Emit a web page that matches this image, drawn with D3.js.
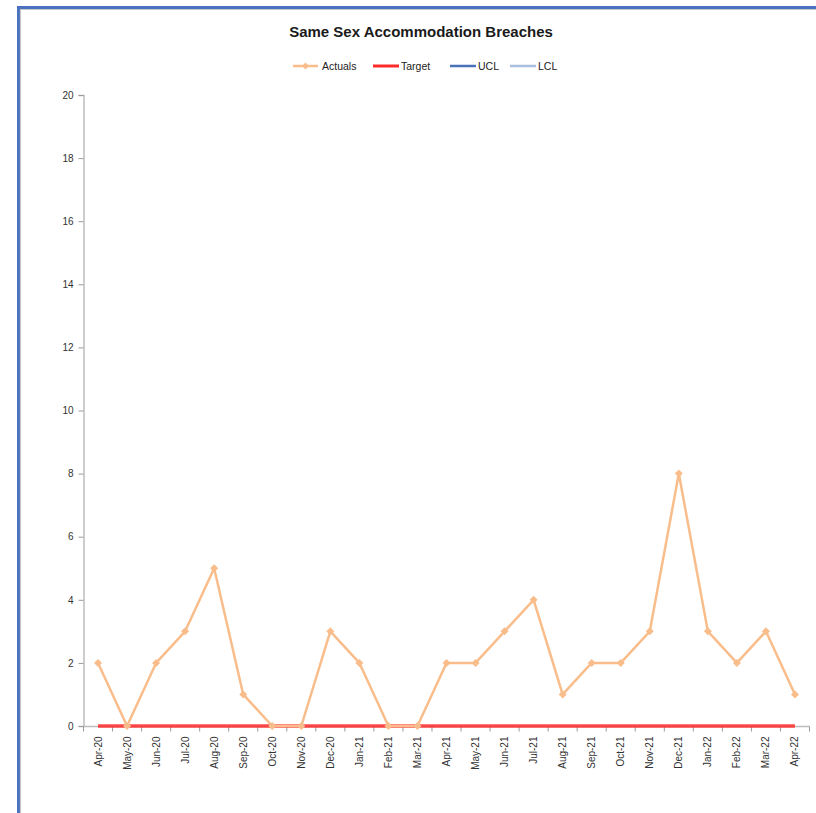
<!DOCTYPE html>
<html>
<head>
<meta charset="utf-8">
<script src="https://cdn.jsdelivr.net/npm/d3@7/dist/d3.min.js"></script>
<style>
  html, body { margin: 0; padding: 0; background: #ffffff; }
  svg { display: block; }
</style>
</head>
<body>
<svg id="chart" width="816" height="813"></svg>
<script>
// Monthly categories
const months = ["Apr-20","May-20","Jun-20","Jul-20","Aug-20","Sep-20","Oct-20","Nov-20","Dec-20",
  "Jan-21","Feb-21","Mar-21","Apr-21","May-21","Jun-21","Jul-21","Aug-21","Sep-21","Oct-21",
  "Nov-21","Dec-21","Jan-22","Feb-22","Mar-22","Apr-22"];
// Breaches recorded each month
const actuals = [2,0,2,3,5,1,0,0,3,2,0,0,2,2,3,4,1,2,2,3,8,3,2,3,1];
// Target is zero breaches every month
const target = [0,0,0,0,0,0,0,0,0,0,0,0,0,0,0,0,0,0,0,0,0,0,0,0,0];
// Control limits (no values plotted)
const ucl = [];
const lcl = [];
const yTicks = [0,2,4,6,8,10,12,14,16,18,20];
const seriesNames = ["Actuals","Target","UCL","LCL"];
const seriesColors = ["#f9bd8b","#ff2a2a","#4a72b8","#a9bfdf"];

const svg = d3.select("#chart");
const font = "'Liberation Sans', Arial, sans-serif";

// frame
svg.append("line").attr("x1",18.5).attr("y1",7).attr("x2",18.5).attr("y2",813)
  .attr("stroke","#4a72c0").attr("stroke-width",3);
svg.append("line").attr("x1",17).attr("y1",7.5).attr("x2",816).attr("y2",7.5)
  .attr("stroke","#4a72c0").attr("stroke-width",3);
svg.append("line").attr("x1",20.5).attr("y1",9.5).attr("x2",20.5).attr("y2",813)
  .attr("stroke","#c8c8c8").attr("stroke-width",1.2);
svg.append("line").attr("x1",20).attr("y1",9.5).attr("x2",816).attr("y2",9.5)
  .attr("stroke","#c8c8c8").attr("stroke-width",1.2);

const x = d3.scaleBand().domain(months).range([83.5, 809.5]);
const y = d3.scaleLinear().domain([0, 20]).range([726, 95]);
const cx = m => x(m) + x.bandwidth() / 2;

// diamond marker: a square turned 45 degrees
const diamond = s => `M0,${-s}L${s},0L0,${s}L${-s},0Z`;

// title
svg.append("text").attr("x", 421).attr("y", 37).attr("text-anchor","middle")
  .attr("font-family", font)
  .attr("font-weight","bold").attr("font-size", 15).attr("fill","#1a1a1a")
  .text("Same Sex Accommodation Breaches");

// legend
const legendX = [293, 373, 450, 510];
const legend = svg.append("g").attr("font-family", font)
  .attr("font-size", 10.5).attr("fill","#222");
seriesNames.forEach((n, i) => {
  const g = legend.append("g").attr("transform", `translate(${legendX[i]},66)`);
  g.append("line").attr("x1",0).attr("x2",i === 0 ? 25 : 26).attr("y1",0).attr("y2",0)
    .attr("stroke", seriesColors[i]).attr("stroke-width", i === 1 ? 3 : 2.5);
  if (i === 0) {
    g.append("path").attr("d", diamond(3.5))
      .attr("transform","translate(12.5,0)").attr("fill", seriesColors[0]);
  }
  g.append("text").attr("x", i === 0 ? 29 : 28).attr("y", 4).text(n);
});

// y axis
const yAxis = svg.append("g").attr("transform","translate(83.5,0)")
  .call(d3.axisLeft(y).tickValues(yTicks).tickSize(5).tickPadding(5));
yAxis.select(".domain").attr("stroke","#bdbdbd").attr("stroke-width",1.5);
yAxis.selectAll(".tick line").attr("stroke","#9a9a9a");
yAxis.selectAll(".tick text").attr("font-family", font).attr("font-size", 10).attr("fill","#333");

// x axis with ticks at category boundaries
const xAxis = svg.append("g").attr("transform","translate(0,726.5)");
xAxis.append("line").attr("x1",83.5).attr("x2",809.5).attr("y1",0).attr("y2",0)
  .attr("stroke","#bdbdbd").attr("stroke-width",1.5);
const bounds = months.map(m => x(m) + x.bandwidth()).concat([x(months[0])]);
xAxis.selectAll("line.b").data(bounds).join("line").attr("class","b")
  .attr("x1", d => d).attr("x2", d => d).attr("y1", 0).attr("y2", 5)
  .attr("stroke","#9a9a9a");
xAxis.selectAll("text").data(months).join("text")
  .attr("transform", d => `translate(${cx(d) + 3.5},${10}) rotate(-90)`)
  .attr("text-anchor","end").attr("font-family", font).attr("font-size", 10)
  .attr("fill","#333").text(d => d);

// target line
svg.append("path").datum(target)
  .attr("d", d3.line().x((d, i) => cx(months[i])).y(d => y(d)))
  .attr("fill","none").attr("stroke", seriesColors[1]).attr("stroke-width", 3.5)
  .attr("opacity", 0.85);

// actuals line and markers
svg.append("path").datum(actuals)
  .attr("d", d3.line().x((d, i) => cx(months[i])).y(d => y(d)))
  .attr("fill","none").attr("stroke", seriesColors[0]).attr("stroke-width", 2.5)
  .attr("stroke-linejoin","round");
svg.selectAll("path.mk").data(actuals).join("path").attr("class","mk")
  .attr("d", diamond(4))
  .attr("transform", (d, i) => `translate(${cx(months[i])},${y(d)})`)
  .attr("fill", seriesColors[0]);
</script>
</body>
</html>
